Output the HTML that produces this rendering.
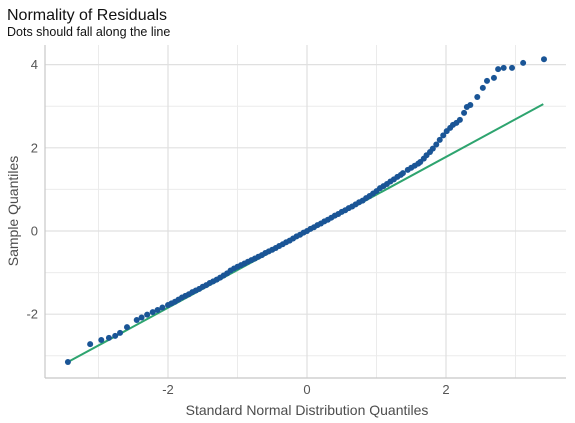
<!DOCTYPE html>
<html><head><meta charset="utf-8">
<style>
html,body{margin:0;padding:0;background:#fff;}
svg{display:block;font-family:"Liberation Sans",Arial,sans-serif;}
</style></head>
<body>
<svg id="chart" width="575" height="423">
  <text x="7" y="20" font-size="16" fill="#111">Normality of Residuals</text>
  <text x="7" y="36" font-size="12.5" fill="#111">Dots should fall along the line</text>
  <g id="grid"></g>
  <g id="axes"></g>
  <g id="marks"></g>
  <text x="307" y="415" font-size="14" fill="#4d4d4d" text-anchor="middle">Standard Normal Distribution Quantiles</text>
  <text transform="translate(18,211) rotate(-90)" font-size="14" fill="#4d4d4d" text-anchor="middle">Sample Quantiles</text>
</svg>
<script>
const xTicks = [-2, 0, 2];
const xMinor = [-3, -1, 1, 3];
const yTicks = [-2, 0, 2, 4];
const yMinor = [-3, -1, 1, 3];
const refLineX = [-3.44, 3.40];
const refLineY = [-3.15, 3.05];
const theoretical = [-3.44,-3.12,-2.96,-2.85,-2.76,-2.69,-2.59,-2.45,-2.38,-2.30,-2.22,-2.15,-2.08,
-2.00,-1.95,-1.90,-1.85,-1.80,-1.75,-1.70,-1.65,-1.60,-1.55,-1.50,-1.45,-1.40,-1.35,-1.30,-1.25,-1.20,-1.15,-1.10,-1.05,
-1.00,-0.95,-0.90,-0.85,-0.80,-0.75,-0.70,-0.65,-0.60,-0.55,-0.50,-0.45,-0.40,-0.35,-0.30,-0.25,-0.20,-0.15,-0.10,-0.05,
0,0.05,0.10,0.15,0.20,0.25,0.30,0.35,0.40,0.45,0.50,0.55,0.60,0.65,0.70,0.75,0.80,0.85,0.90,0.95,1.00,
1.05,1.10,1.15,1.20,1.25,1.30,1.35,1.38,1.45,1.50,1.55,1.60,1.63,1.68,1.72,1.77,1.81,1.86,1.91,1.96,2.01,2.06,2.10,2.15,2.20,
2.26,2.30,2.35,2.45,2.53,2.59,2.69,2.75,2.83,2.95,3.11,3.41];
const sample = [-3.15,-2.72,-2.62,-2.57,-2.52,-2.45,-2.31,-2.14,-2.08,-2.01,-1.95,-1.90,-1.84,
-1.78,-1.74,-1.70,-1.65,-1.60,-1.56,-1.52,-1.47,-1.43,-1.39,-1.34,-1.30,-1.25,-1.21,-1.17,-1.12,-1.07,-1.02,-0.95,-0.90,
-0.86,-0.82,-0.78,-0.74,-0.70,-0.66,-0.62,-0.58,-0.53,-0.49,-0.45,-0.41,-0.36,-0.32,-0.27,-0.23,-0.18,-0.13,-0.09,-0.04,
0.00,0.05,0.09,0.14,0.18,0.23,0.27,0.32,0.37,0.41,0.46,0.50,0.55,0.59,0.64,0.69,0.73,0.79,0.84,0.90,0.96,
1.03,1.08,1.13,1.19,1.24,1.30,1.35,1.39,1.47,1.52,1.57,1.62,1.66,1.74,1.82,1.90,1.98,2.08,2.19,2.30,2.40,2.48,2.55,2.60,2.67,
2.84,2.98,3.03,3.22,3.44,3.61,3.68,3.89,3.92,3.92,4.04,4.13];

const NS='http://www.w3.org/2000/svg';
const L=45,R=566,T=45,B=378;
function sx(v){return 307+v*69.5;}
function sy(v){return 231-v*41.6;}
function mk(tag,attrs,parent){const e=document.createElementNS(NS,tag);for(const k in attrs)e.setAttribute(k,attrs[k]);parent.appendChild(e);return e;}
const grid=document.getElementById('grid'),axes=document.getElementById('axes'),marks=document.getElementById('marks');
xMinor.forEach(v=>{const e=mk('line',{x1:sx(v),x2:sx(v),y1:T,y2:B,stroke:'#ebebeb','stroke-width':1},grid);

});
yMinor.forEach(v=>{const e=mk('line',{x1:L,x2:R,y1:sy(v),y2:sy(v),stroke:'#ebebeb','stroke-width':1},grid);

});
xTicks.forEach(v=>{const e=mk('line',{x1:sx(v),x2:sx(v),y1:T,y2:B,stroke:'#e0e0e0','stroke-width':1.2},grid);


const t=mk('text',{x:sx(v),y:394,'font-size':13,fill:'#555','text-anchor':'middle'},axes);t.textContent=v;

});
yTicks.forEach(v=>{const e=mk('line',{x1:L,x2:R,y1:sy(v),y2:sy(v),stroke:'#e0e0e0','stroke-width':1.2},grid);


const t=mk('text',{x:38,y:sy(v)+4.5,'font-size':13,fill:'#555','text-anchor':'end'},axes);t.textContent=v;

});
const ax=mk('line',{x1:L,x2:L,y1:T,y2:B,stroke:'#c8c8c8','stroke-width':1.2},axes);


const bx=mk('line',{x1:L,x2:R,y1:B,y2:B,stroke:'#c8c8c8','stroke-width':1.2},axes);


const rl=mk('line',{x1:sx(refLineX[0]),y1:sy(refLineY[0]),x2:sx(refLineX[1]),y2:sy(refLineY[1]),stroke:'#2ea46f','stroke-width':2},marks);


theoretical.forEach((t,i)=>{const c=mk('circle',{cx:sx(t),cy:sy(sample[i]),r:3,fill:'#1a5596'},marks);

});
</script>
</body></html>
